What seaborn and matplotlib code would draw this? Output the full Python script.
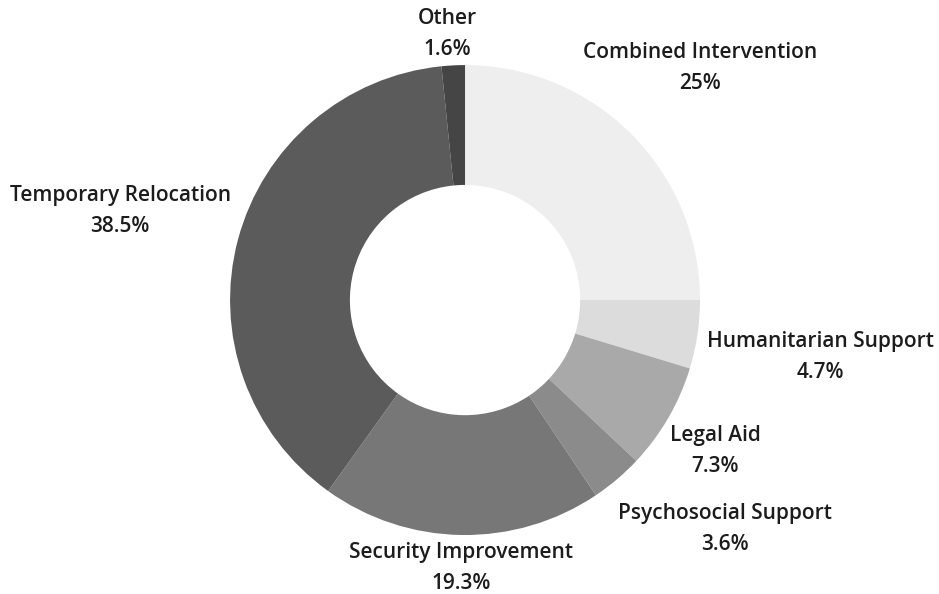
import numpy as np
import seaborn as sns
import matplotlib.pyplot as plt

categories = ["Combined Intervention", "Humanitarian Support", "Legal Aid",
              "Psychosocial Support", "Security Improvement",
              "Temporary Relocation", "Other"]
shares = [25.0, 4.7, 7.3, 3.6, 19.3, 38.5, 1.6]
pct_labels = ["25%", "4.7%", "7.3%", "3.6%", "19.3%", "38.5%", "1.6%"]

colors = ["#eeeeee", "#dcdcdc", "#a9a9a9", "#8b8b8b", "#777777", "#5b5b5b", "#454545"]
# label placement: distance from centre (in radii) and clockwise nudge (deg)
label_dist = [1.405, 1.53, 1.243, 1.474, 1.14, 1.516, 1.134]
label_nudge = [0.4, 0.6, 1.0, -8.3, 0, -0.4, -1.0]

sns.set_theme(style="white")
plt.rcParams["font.family"] = ["Open Sans", "DejaVu Sans"]

fig = plt.figure(figsize=(9.39, 5.94), dpi=100)
ax = fig.add_axes([0, 0, 1, 1])

wedges, _ = ax.pie(shares, colors=colors, startangle=90, counterclock=False,
                   wedgeprops=dict(width=0.51, linewidth=0), radius=1.0)

for w, name, pct, d, nudge in zip(wedges, categories, pct_labels, label_dist, label_nudge):
    mid = np.deg2rad((w.theta1 + w.theta2) / 2 - nudge)
    x, y = d * np.cos(mid), d * np.sin(mid)
    ax.text(x, y, f"{name}\n{pct}", ha="center", va="center", fontsize=15,
            fontweight="semibold", color="#1c1c1c", linespacing=1.62)

ax.set_xlim(-1.979, 2.017)
ax.set_ylim(-1.251, 1.277)
ax.set_aspect("equal")
ax.axis("off")

fig.savefig("out.png", dpi=100)
